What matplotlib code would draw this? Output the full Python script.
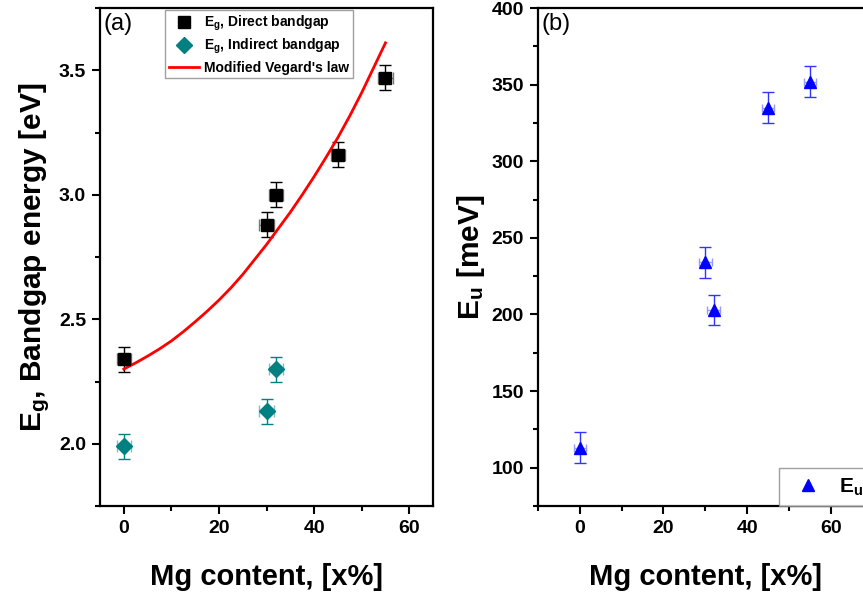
import matplotlib
matplotlib.use("Agg")
import matplotlib.pyplot as plt
from matplotlib.ticker import MultipleLocator

plt.rcParams['font.family'] = ['Liberation Sans', 'DejaVu Sans']
plt.rcParams['mathtext.fontset'] = 'custom'
plt.rcParams['mathtext.rm'] = 'Liberation Sans:bold'
plt.rcParams['mathtext.it'] = 'Liberation Sans:bold'
plt.rcParams['mathtext.bf'] = 'Liberation Sans:bold'
plt.rcParams['mathtext.default'] = 'bf'

# panel (a): bandgap energy
mg_direct = [0, 30, 32, 45, 55]
eg_direct = [2.34, 2.88, 3.00, 3.16, 3.47]
mg_indirect = [0, 30, 32]
eg_indirect = [1.99, 2.13, 2.30]
eg_err = 0.05
mg_err = 1.5

# Vegard curve
vegard_x = [0, 2.5, 5, 7.5, 10, 12.5, 15, 17.5, 20, 22.5, 25, 27.5, 30,
            32.5, 35, 37.5, 40, 42.5, 45, 47.5, 50, 52.5, 55]
vegard_y = [2.30, 2.325, 2.352, 2.381, 2.413, 2.45, 2.49, 2.532, 2.577, 2.626,
            2.68, 2.74, 2.80, 2.865, 2.93, 3.00, 3.073, 3.15, 3.23, 3.317,
            3.41, 3.51, 3.61]

# panel (b): Urbach energy
mg_urbach = [0, 30, 32, 45, 55]
eu_values = [113, 234, 203, 335, 352]
eu_err = 10

fig = plt.figure(figsize=(8.63, 5.98), dpi=100, facecolor='white')
ax1 = fig.add_axes([0.1159, 0.1538, 0.3859, 0.8328])
ax2 = fig.add_axes([0.6234, 0.1538, 0.3877, 0.8328])

teal = '#008080'


def style_axes(ax):
    for sp in ax.spines.values():
        sp.set_linewidth(1.6)
    ax.tick_params(which='both', direction='out', width=1.5, top=False, right=False)
    ax.tick_params(which='major', length=6, labelsize=14, pad=4)
    ax.tick_params(which='minor', length=3.5)
    for lab in ax.get_xticklabels() + ax.get_yticklabels():
        lab.set_fontweight('bold')


# ---- (a)
ax1.errorbar(mg_direct, eg_direct, yerr=eg_err, fmt='none', ecolor='black',
             elinewidth=1, capsize=4, capthick=1, zorder=2)
ax1.errorbar(mg_direct, eg_direct, xerr=mg_err, fmt='none', ecolor='#777777',
             elinewidth=1, capsize=4, capthick=1, zorder=2)
ax1.errorbar(mg_indirect, eg_indirect, yerr=eg_err, fmt='none', ecolor=teal,
             elinewidth=1, capsize=4, capthick=1, zorder=2)
ax1.errorbar(mg_indirect, eg_indirect, xerr=mg_err, fmt='none', ecolor='#7fbfbf',
             elinewidth=1, capsize=4, capthick=1, zorder=2)
ax1.plot(mg_direct, eg_direct, 's', color='black', markersize=8.5, zorder=3,
         label='E$_g$, Direct bandgap')
ax1.plot(mg_indirect, eg_indirect, 'D', color=teal, markersize=8.5, zorder=3,
         label='E$_g$, Indirect bandgap')
ax1.plot(vegard_x, vegard_y, '-', color='red', linewidth=2, zorder=2.5,
         label="Modified Vegard's law")

ax1.set_xlim(-5, 65)
ax1.set_ylim(1.75, 3.75)
ax1.xaxis.set_major_locator(MultipleLocator(20))
ax1.xaxis.set_minor_locator(MultipleLocator(10))
ax1.yaxis.set_major_locator(MultipleLocator(0.5))
ax1.yaxis.set_minor_locator(MultipleLocator(0.25))
ax1.yaxis.set_major_formatter(plt.FormatStrFormatter('%.1f'))
style_axes(ax1)
ax1.set_xlabel('Mg content, [x%]', fontsize=21, fontweight='bold', labelpad=19)
ax1.set_ylabel('E$_g$, Bandgap energy [eV]', fontsize=21.5, fontweight='bold', labelpad=5)
ax1.text(0.01, 0.99, '(a)', transform=ax1.transAxes, fontsize=17,
         ha='left', va='top')
leg1 = ax1.legend(loc='upper left', bbox_to_anchor=(0.19, 1.0), borderaxespad=0.15,
                  prop={'weight': 'bold', 'size': 10}, frameon=True, fancybox=False,
                  edgecolor='#888888', handlelength=2.2, handletextpad=0.35,
                  labelspacing=0.3, borderpad=0.25)
leg1.get_frame().set_linewidth(1.0)

# ---- (b)
ax2.errorbar(mg_urbach, eu_values, yerr=eu_err, fmt='none', ecolor='#3333ff',
             elinewidth=1, capsize=4, capthick=1, zorder=2)
ax2.errorbar(mg_urbach, eu_values, xerr=mg_err, fmt='none', ecolor='#9999ff',
             elinewidth=1, capsize=3, capthick=1, zorder=2)
ax2.plot(mg_urbach, eu_values, '^', color='#0000ff', markersize=9, zorder=3,
         label='E$_u$')

ax2.set_xlim(-10, 70)
ax2.set_ylim(75, 400)
ax2.xaxis.set_major_locator(MultipleLocator(20))
ax2.xaxis.set_minor_locator(MultipleLocator(10))
ax2.yaxis.set_major_locator(MultipleLocator(50))
ax2.yaxis.set_minor_locator(MultipleLocator(25))
style_axes(ax2)
ax2.set_xlabel('Mg content, [x%]', fontsize=21, fontweight='bold', labelpad=19)
ax2.set_ylabel('E$_u$ [meV]', fontsize=21.5, fontweight='bold', labelpad=3)
ax2.text(0.01, 0.99, '(b)', transform=ax2.transAxes, fontsize=17,
         ha='left', va='top')
leg2 = ax2.legend(loc='lower left', bbox_to_anchor=(0.72, 0.0), borderaxespad=0,
                  prop={'weight': 'bold', 'size': 15}, frameon=True, fancybox=False,
                  edgecolor='#888888', handlelength=2.0, handletextpad=0.5,
                  borderpad=0.4)
leg2.get_frame().set_linewidth(1.0)

fig.savefig('out.png', dpi=100, facecolor='white')
